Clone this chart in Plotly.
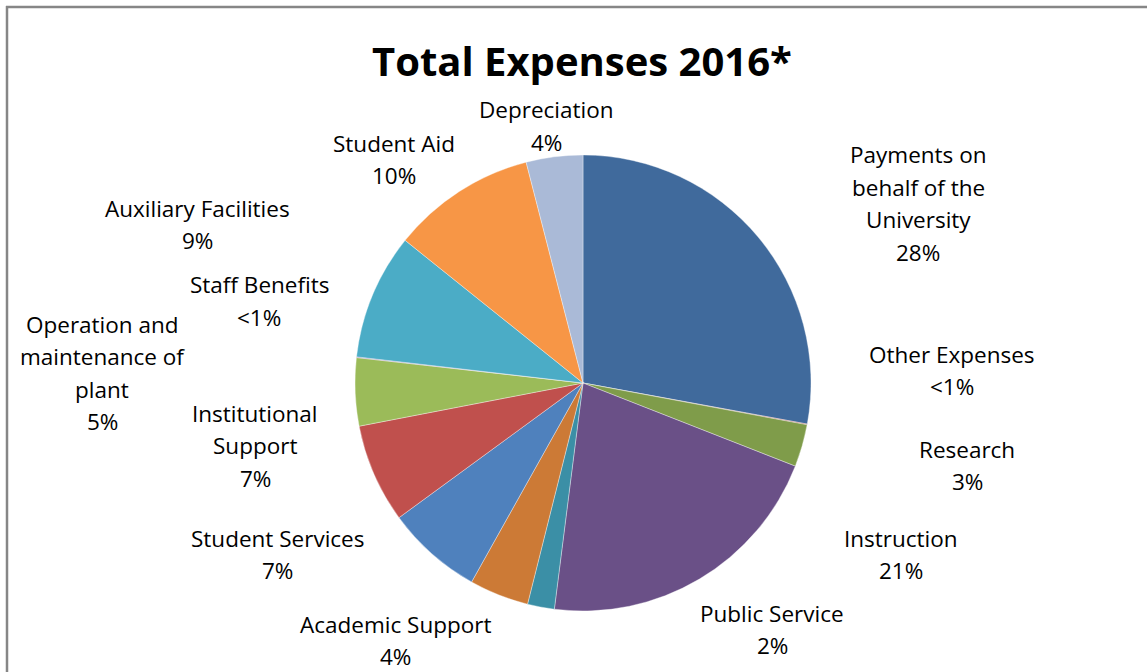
import plotly.graph_objects as go

W, H = 1147, 672

# ---- data ----
categories = [
    "Payments on behalf of the University",
    "Other Expenses",
    "Research",
    "Instruction",
    "Public Service",
    "Academic Support",
    "Student Services",
    "Institutional Support",
    "Operation and maintenance of plant",
    "Staff Benefits",
    "Auxiliary Facilities",
    "Student Aid",
    "Depreciation",
]
values = [27.8, 0.05, 3.0, 21.0, 1.9, 4.2, 6.8, 7.0, 4.8, 0.05, 8.9, 10.2, 4.0]
pct_labels = ["28%", "<1%", "3%", "21%", "2%", "4%", "7%", "7%", "5%", "<1%", "9%", "10%", "4%"]
label_lines = [
    ["Payments on", "behalf of the", "University"],
    ["Other Expenses"],
    ["Research"],
    ["Instruction"],
    ["Public Service"],
    ["Academic Support"],
    ["Student Services"],
    ["Institutional", "Support"],
    ["Operation and", "maintenance of", "plant"],
    ["Staff Benefits"],
    ["Auxiliary Facilities"],
    ["Student Aid"],
    ["Depreciation"],
]
title_text = "Total Expenses 2016*"

# ---- styling ----
colors = ["#406A9C", "#9A3D3B", "#7F9C4A", "#6A5087", "#3B8FA6", "#CC7A36",
          "#4F81BD", "#C0504D", "#9BBB59", "#8064A2", "#4BACC6", "#F79646", "#AABAD7"]

# label block positions (pixel x center, pixel y of first line center)
label_pos = [
    (918, 155), (952, 354), (967, 449), (901, 538), (772, 613), (395, 624),
    (277, 538), (255, 413), (102, 324), (259, 285), (197, 208), (394, 143), (546, 110),
]
LINE = 32.5
FONT = "'Open Sans', sans-serif"
FS = 22.5

cx, cy, r = 583, 383, 228

fig = go.Figure(go.Pie(
    labels=categories,
    values=values,
    sort=False,
    direction="clockwise",
    rotation=0,
    marker=dict(colors=colors, line=dict(color="rgba(255,255,255,0.6)", width=0.6)),
    textinfo="none",
    hoverinfo="label+percent",
    showlegend=False,
    domain=dict(x=[(cx - r) / W, (cx + r) / W], y=[1 - (cy + r) / H, 1 - (cy - r) / H]),
))

annotations = []
for lines, pct, (px, py) in zip(label_lines, pct_labels, label_pos):
    for i, t in enumerate(lines + [pct]):
        yy = py + i * LINE
        annotations.append(dict(
            x=px / W, y=1 - yy / H, xref="paper", yref="paper",
            text=t, showarrow=False, xanchor="center", yanchor="middle",
            font=dict(family=FONT, size=FS, color="#000000"),
        ))

annotations.append(dict(
    x=582 / W, y=1 - 60 / H, xref="paper", yref="paper",
    text="<b>" + title_text + "</b>", showarrow=False, xanchor="center", yanchor="middle",
    font=dict(family=FONT, size=40, color="#000000"),
))

fig.update_layout(
    width=W, height=H,
    margin=dict(l=0, r=0, t=0, b=0),
    paper_bgcolor="white",
    plot_bgcolor="white",
    annotations=annotations,
    shapes=[
        dict(type="line", xref="paper", yref="paper", x0=6 / W, x1=1.02, y0=1 - 7 / H, y1=1 - 7 / H,
             line=dict(color="#868686", width=2.5)),
        dict(type="line", xref="paper", yref="paper", x0=7 / W, x1=7 / W, y0=1 - 6 / H, y1=-0.02,
             line=dict(color="#868686", width=2.5)),
    ],
)

fig.write_html(
    "out.html",
    config={"displayModeBar": False},
    post_script="document.body.style.margin='0';document.body.style.padding='0';document.body.style.overflow='hidden';",
)
